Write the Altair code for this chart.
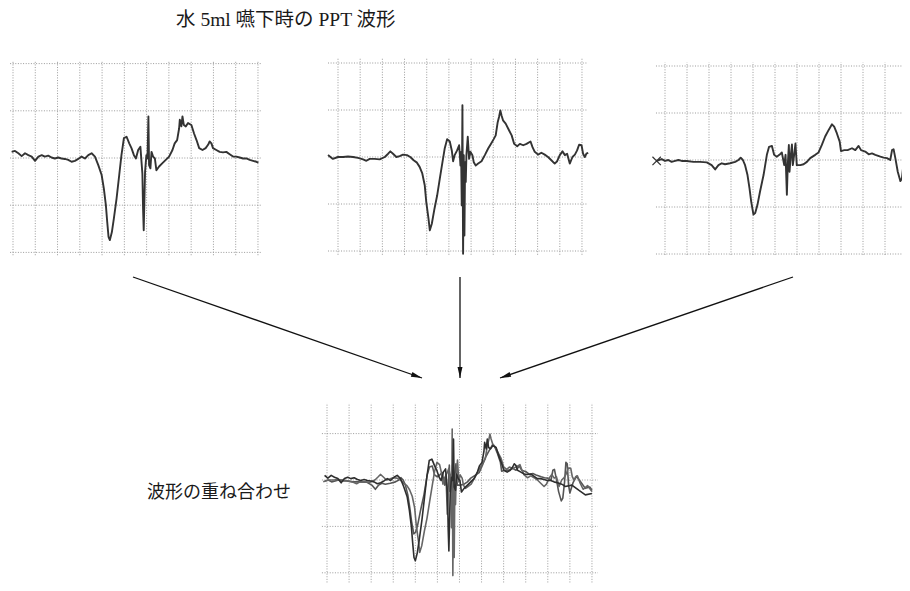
import math
import altair as alt
import pandas as pd

# ---------------- data (time and amplitude in grid divisions) ----------------
TITLE = "水 5ml 嚥下時の PPT 波形"
OVERLAY_LABEL = "波形の重ね合わせ"

W1_T = [-0.06, 0.09, 0.24, 0.39, 0.54, 0.69, 0.84, 0.99, 1.14, 1.29, 1.43, 1.58, 1.73, 1.88,
        2.03, 2.18, 2.33, 2.48, 2.63, 2.78, 2.93, 3.08, 3.23, 3.38, 3.53, 3.68, 3.83, 3.98,
        4.08, 4.17, 4.23, 4.29, 4.35, 4.44, 4.53, 4.65, 4.77, 4.87, 4.98, 5.10, 5.22, 5.32,
        5.43, 5.52, 5.62, 5.72, 5.81, 5.84, 5.87, 5.93, 5.99, 6.04, 6.08, 6.11, 6.17, 6.22,
        6.29, 6.37, 6.44, 6.56, 6.71, 6.86, 7.01, 7.16, 7.26, 7.37, 7.46, 7.49, 7.56, 7.61,
        7.67, 7.76, 7.86, 8.01, 8.13, 8.24, 8.36, 8.51, 8.65, 8.76, 8.83, 8.91, 8.98, 9.13,
        9.28, 9.43, 9.58, 9.73, 9.88, 10.03, 10.18, 10.33, 10.48, 10.63, 10.78, 10.93, 11.02]
W1_A = [0.13, 0.15, 0.10, 0.04, 0.10, 0.06, 0.03, -0.06, 0.03, 0.06, 0.03, 0.05, 0.01, -0.01,
        0.01, -0.01, -0.02, -0.04, -0.08, -0.06, -0.02, 0.03, -0.01, 0.06, 0.10, 0.03, -0.15, -0.36,
        -0.65, -1.00, -1.35, -1.67, -1.74, -1.57, -1.28, -0.86, -0.36, 0.06, 0.42, 0.45, 0.31, 0.21,
        0.06, -0.01, 0.17, 0.24, -0.33, -1.07, -1.53, -0.29, 0.06, -0.01, 0.88, -0.15, -0.22, 0.13,
        0.03, -0.01, -0.26, -0.18, -0.11, -0.04, 0.03, 0.17, 0.31, 0.38, 0.63, 0.81, 0.67, 0.88,
        0.70, 0.67, 0.74, 0.70, 0.52, 0.38, 0.21, 0.17, 0.21, 0.28, 0.35, 0.31, 0.21, 0.17,
        0.13, 0.12, 0.13, 0.08, 0.03, 0.03, 0.01, -0.01, -0.01, -0.04, -0.06, -0.08, -0.10]

W2_T = [-0.45, -0.23, 0.0, 0.23, 0.45, 0.68, 0.90, 1.13, 1.28, 1.43, 1.65, 1.88, 2.11, 2.26,
        2.36, 2.48, 2.63, 2.78, 2.93, 3.11, 3.26, 3.41, 3.56, 3.68, 3.80, 3.91, 3.98, 4.08,
        4.14, 4.23, 4.35, 4.47, 4.59, 4.71, 4.81, 4.92, 5.04, 5.13, 5.19, 5.26, 5.37, 5.46,
        5.49, 5.52, 5.55, 5.58, 5.61, 5.64, 5.67, 5.70, 5.73, 5.76, 5.79, 5.85, 5.91, 5.97,
        6.06, 6.12, 6.21, 6.32, 6.47, 6.62, 6.77, 6.92, 7.02, 7.11, 7.20, 7.26, 7.32, 7.37,
        7.44, 7.56, 7.71, 7.83, 7.94, 8.08, 8.20, 8.35, 8.50, 8.68, 8.77, 8.87, 9.02, 9.17,
        9.32, 9.47, 9.62, 9.77, 9.88, 10.0, 10.12, 10.23, 10.33, 10.45, 10.57, 10.68, 10.78,
        10.87, 10.98, 11.05, 11.13, 11.20, 11.28]
W2_A = [0.04, -0.04, 0.0, 0.0, 0.01, 0.0, -0.02, -0.05, -0.08, -0.04, -0.04, -0.05, 0.0, 0.07,
        0.12, 0.07, 0.0, 0.02, 0.05, 0.04, 0.0, -0.07, -0.12, -0.21, -0.35, -0.60, -0.96, -1.31,
        -1.56, -1.42, -1.10, -0.82, -0.46, -0.11, 0.18, 0.38, 0.33, 0.14, -0.09, 0.04, 0.14, 0.25,
        0.07, -0.18, 0.11, -1.03, 1.10, -2.06, 0.04, -1.67, -0.11, -0.53, 0.04, 0.43, -0.04, 0.11,
        0.04, -0.11, -0.18, -0.14, -0.09, 0.04, 0.18, 0.30, 0.38, 0.46, 0.74, 0.85, 0.99, 0.89,
        0.78, 0.71, 0.57, 0.46, 0.28, 0.23, 0.28, 0.25, 0.28, 0.33, 0.21, 0.11, 0.05, 0.09,
        0.05, 0.0, -0.07, -0.14, -0.09, 0.04, 0.12, 0.04, 0.07, -0.14, 0.0, 0.05, 0.14,
        0.26, 0.25, 0.07, 0.0, 0.07, 0.09]

W3_T = [-0.38, -0.15, 0.0, 0.15, 0.30, 0.46, 0.61, 0.76, 0.99, 1.29, 1.59, 1.90, 2.12, 2.28,
        2.43, 2.58, 2.73, 2.96, 3.19, 3.34, 3.44, 3.54, 3.64, 3.75, 3.84, 3.92, 4.02, 4.10,
        4.20, 4.32, 4.48, 4.63, 4.73, 4.86, 4.96, 5.08, 5.20, 5.31, 5.42, 5.48, 5.54, 5.58,
        5.63, 5.66, 5.72, 5.77, 5.81, 5.87, 5.93, 5.99, 6.15, 6.30, 6.45, 6.60, 6.83, 6.98,
        7.13, 7.28, 7.44, 7.59, 7.69, 7.81, 7.94, 8.00, 8.15, 8.30, 8.50, 8.65, 8.80, 8.91,
        9.10, 9.26, 9.41, 9.56, 9.79, 9.94, 10.09, 10.24, 10.32, 10.39, 10.47, 10.58, 10.70,
        10.77, 10.85, 10.91, 10.97, 11.03, 11.09]
W3_A = [-0.02, 0.02, -0.02, 0.0, -0.04, -0.02, 0.0, -0.02, -0.02, -0.04, -0.04, -0.05, -0.11, -0.20,
        -0.11, -0.07, -0.09, -0.07, -0.04, 0.0, 0.05, 0.0, -0.11, -0.32, -0.60, -0.89, -1.16, -1.13,
        -0.96, -0.67, -0.32, 0.11, 0.28, 0.30, 0.11, 0.07, 0.11, 0.16, -0.11, 0.11, -0.74, -0.11,
        0.32, -0.25, 0.11, 0.33, -0.11, 0.11, 0.35, -0.11, -0.11, -0.09, -0.04, 0.04, 0.11, 0.16,
        0.32, 0.50, 0.64, 0.76, 0.71, 0.57, 0.39, 0.19, 0.21, 0.21, 0.25, 0.21, 0.30, 0.21,
        0.18, 0.12, 0.14, 0.11, 0.07, 0.05, 0.04, 0.0, 0.21, 0.23, 0.04, -0.25, -0.45,
        -0.39, -0.04, 0.38, 0.35, -0.11, -0.28]

# alignment offsets used in the superposition (divisions)
OVERLAY_SHIFT = [-0.35, 0.06, -0.09]
# trailing parts visible only in the superposition (already aligned)
TAIL1_T = [10.79, 11.09, 11.40, 11.70, 12.0]
TAIL1_A = [-0.14, -0.11, -0.22, -0.32, -0.29]
TAIL2_T = [11.45, 11.60, 11.80, 12.0]
TAIL2_A = [-0.05, -0.20, -0.12, -0.25]
TAIL3_T = [11.15, 11.30, 11.50, 11.70, 11.90, 12.0]
TAIL3_A = [-0.05, 0.08, -0.05, -0.18, -0.15, -0.22]

# ---------------- layout (page pixels) ----------------
M = 8  # page margin
PANELS = {
    "p1": dict(x0=13, dx=22.27, y0=158, dy=47.2, t=(-0.13, 11.18), a=(-2.06, 2.06),
               vt=list(range(0, 12)), ha=[-2, -1, 0, 1, 2]),
    "p2": dict(x0=338, dx=22.18, y0=157, dy=47.0, t=(-0.45, 11.27), a=(-2.08, 2.1),
               vt=list(range(0, 12)), ha=[-2, -1, 0, 1, 2]),
    "p3": dict(x0=665, dx=22.0, y0=160, dy=47.0, t=(-0.41, 11.14), a=(-2.02, 2.08),
               vt=list(range(0, 12)), ha=[-2, -1, 0, 1, 2]),
    "p4": dict(x0=327, dx=22.08, y0=480, dy=46.4, t=(-0.23, 12.27), a=(-2.32, 1.66),
               vt=list(range(0, 13)), ha=[-2, -1, 0, 1]),
}
GRID = "#9a9a9a"
INK = "#333333"
FONT = "Liberation Serif, Noto Sans CJK JP"


def scales(p):
    xs = alt.Scale(domain=[0, 10], range=[p["x0"] - M, p["x0"] + 10 * p["dx"] - M],
                   nice=False, zero=False)
    ys = alt.Scale(domain=[-2, 2], range=[p["y0"] + 2 * p["dy"] - M, p["y0"] - 2 * p["dy"] - M],
                   nice=False, zero=False)
    return xs, ys


def panel(p, waves):
    xs, ys = scales(p)
    vdf = pd.DataFrame({"t": p["vt"], "lo": p["a"][0], "hi": p["a"][1]})
    hdf = pd.DataFrame({"a": p["ha"], "lo": p["t"][0], "hi": p["t"][1]})
    vgrid = alt.Chart(vdf).mark_rule(color=GRID, strokeDash=[1, 1.6], strokeWidth=1).encode(
        x=alt.X("t:Q", scale=xs, axis=None),
        y=alt.Y("lo:Q", scale=ys, axis=None), y2="hi:Q")
    hgrid = alt.Chart(hdf).mark_rule(color=GRID, strokeDash=[1, 1.6], strokeWidth=1).encode(
        y=alt.Y("a:Q", scale=ys, axis=None),
        x=alt.X("lo:Q", scale=xs, axis=None), x2="hi:Q")
    layers = [vgrid, hgrid]
    for df, color, width in waves:
        layers.append(alt.Chart(df).mark_line(color=color, strokeWidth=width,
                                              strokeJoin="round").encode(
            x=alt.X("t:Q", scale=xs, axis=None),
            y=alt.Y("a:Q", scale=ys, axis=None),
            order="i:Q"))
    return layers


def wave_df(t, a):
    return pd.DataFrame({"t": t, "a": a, "i": range(len(t))})


def overlay_df(t, a, shift, tt, ta, lo, hi):
    ts = [v + shift for v in t] + list(tt)
    aa = list(a) + list(ta)
    df = pd.DataFrame({"t": ts, "a": aa, "i": range(len(ts))})
    return df[(df.t >= lo) & (df.t <= hi)]


p1 = panel(PANELS["p1"], [(wave_df(W1_T, W1_A), INK, 1.9)])
p2 = panel(PANELS["p2"], [(wave_df(W2_T, W2_A), INK, 1.9)])
p3_layers = panel(PANELS["p3"], [(wave_df(W3_T, W3_A), INK, 1.9)])
xs3, ys3 = scales(PANELS["p3"])
cross = alt.Chart(pd.DataFrame({"t": [W3_T[0]], "a": [W3_A[0]]})).mark_point(
    shape="M-1,-1L1,1M-1,1L1,-1", size=70, color=INK, strokeWidth=1.2, filled=False,
    opacity=1).encode(
    x=alt.X("t:Q", scale=xs3, axis=None), y=alt.Y("a:Q", scale=ys3, axis=None))
p3 = p3_layers + [cross]

lo4, hi4 = -0.18, 12.02
p4 = panel(PANELS["p4"], [
    (overlay_df(W3_T, W3_A, OVERLAY_SHIFT[2], TAIL3_T, TAIL3_A, lo4, hi4), "#555555", 1.6),
    (overlay_df(W2_T, W2_A, OVERLAY_SHIFT[1], TAIL2_T, TAIL2_A, lo4, hi4), "#666666", 1.6),
    (overlay_df(W1_T, W1_A, OVERLAY_SHIFT[0], TAIL1_T, TAIL1_A, lo4, hi4), "#2e2e2e", 1.6),
])

# ---------------- annotations (page pixel scale) ----------------
W, H = 894, 575
px = alt.Scale(domain=[M, M + W], range=[0, W], nice=False, zero=False)
py = alt.Scale(domain=[M, M + H], range=[0, H], nice=False, zero=False)

ARROW_X0 = [133, 460, 793]
ARROW_Y0 = [277, 277, 277]
ARROW_X1 = [422, 460, 500]
ARROW_Y1 = [378, 378, 378]
adf = pd.DataFrame({"x": ARROW_X0, "y": ARROW_Y0, "x2": ARROW_X1, "y2": ARROW_Y1})
adf["ang"] = [(math.degrees(math.atan2(x2 - x, -(y2 - y))) + 360) % 360
              for x, y, x2, y2 in zip(adf.x, adf.y, adf.x2, adf.y2)]

shafts = alt.Chart(adf).mark_rule(color="#111", strokeWidth=1.3).encode(
    x=alt.X("x:Q", scale=px, axis=None), y=alt.Y("y:Q", scale=py, axis=None),
    x2="x2:Q", y2="y2:Q")
heads = alt.Chart(adf).mark_point(
    shape="M0,0L-0.45,2L0.45,2Z", size=121, filled=True, color="#111", opacity=1,
    strokeWidth=0).encode(
    x=alt.X("x2:Q", scale=px, axis=None), y=alt.Y("y2:Q", scale=py, axis=None),
    angle=alt.Angle("ang:Q", scale=None))

tdf = pd.DataFrame({"x": [176, 147], "y": [20, 493], "s": [TITLE, OVERLAY_LABEL],
                    "fs": [19.5, 18]})
texts = alt.Chart(tdf).mark_text(align="left", baseline="middle", font=FONT,
                                 color="#1a1a1a").encode(
    x=alt.X("x:Q", scale=px, axis=None), y=alt.Y("y:Q", scale=py, axis=None),
    text="s:N", size=alt.Size("fs:Q", scale=None))

annot = alt.layer(shafts, heads, texts)

chart = alt.layer(
    alt.layer(*p1), alt.layer(*p2), alt.layer(*p3), alt.layer(*p4), annot
).resolve_scale(x="independent", y="independent").properties(
    width=W, height=H, padding=0, autosize="none", background="white"
).configure_view(stroke=None)

chart.save("out.html", embed_options={"renderer": "svg", "actions": False})
